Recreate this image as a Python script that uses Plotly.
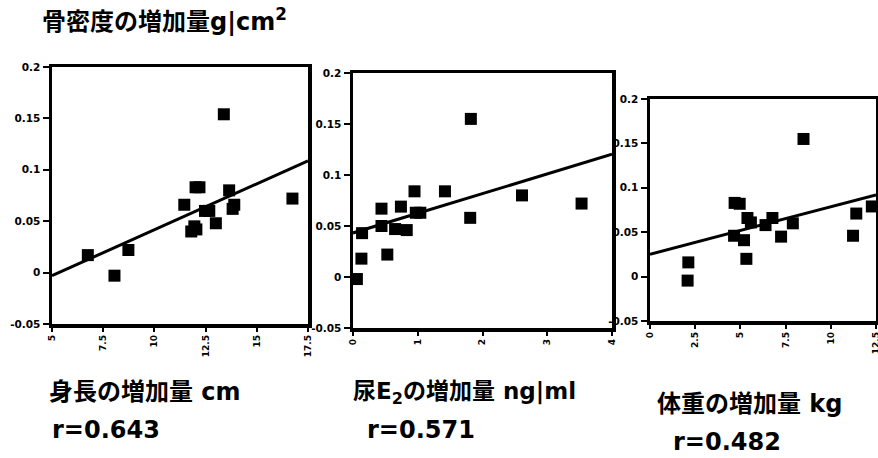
import plotly.graph_objects as go

W, H = 878, 458

# ---- data ----
height_x = [6.75, 8.05, 8.73, 11.46, 11.80, 11.95, 12.01, 12.20, 12.47, 12.68, 13.00, 13.39, 13.65, 13.82, 13.90, 16.74, 12.05]
height_y = [0.017, -0.003, 0.022, 0.066, 0.040, 0.045, 0.083, 0.083, 0.060, 0.060, 0.048, 0.154, 0.080, 0.062, 0.066, 0.072, 0.042]
height_fit = (-0.0477, 0.00894)  # intercept, slope

e2_x = [0.06, 0.13, 0.14, 0.44, 0.44, 0.53, 0.65, 0.74, 0.83, 0.95, 0.97, 1.04, 1.42, 1.82, 1.81, 2.61, 3.53]
e2_y = [-0.002, 0.018, 0.043, 0.067, 0.050, 0.022, 0.047, 0.069, 0.046, 0.084, 0.063, 0.063, 0.084, 0.155, 0.058, 0.080, 0.072]
e2_fit = (0.0432, 0.0193)

weight_x = [2.12, 2.08, 4.68, 4.96, 4.65, 5.20, 5.33, 5.39, 5.58, 6.39, 6.77, 7.25, 7.90, 8.49, 11.23, 11.41, 12.27]
weight_y = [0.016, -0.0045, 0.083, 0.082, 0.046, 0.041, 0.020, 0.066, 0.061, 0.058, 0.066, 0.045, 0.060, 0.155, 0.046, 0.071, 0.079]
weight_fit = (0.0252, 0.00535)

y_ticks = [-0.05, 0, 0.05, 0.1, 0.15, 0.2]
y_ticktext = ["-0.05", "0", "0.05", "0.1", "0.15", "0.2"]

height_ticks = [5, 7.5, 10, 12.5, 15, 17.5]
height_ticktext = ["5", "7.5", "10", "12.5", "15", "17.5"]
e2_ticks = [0, 1, 2, 3, 4]
e2_ticktext = ["0", "1", "2", "3", "4"]
weight_ticks = [0, 2.5, 5, 7.5, 10, 12.5]
weight_ticktext = ["0", "2.5", "5", "7.5", "10", "12.5"]

title_text = "骨密度の増加量g|cm<sup>2</sup>"
labels = ["身長の増加量 cm", "尿E<sub>2</sub>の増加量 ng|ml", "体重の増加量 kg"]
r_texts = ["r=0.643", "r=0.571", "r=0.482"]

# ---- layout boxes (pixels: left, right, top, bottom) ----
boxes = [(52, 308, 67, 324), (353, 612, 73, 328), (650, 876, 99, 321)]

panels = [
    (height_x, height_y, height_fit, height_ticks, height_ticktext),
    (e2_x, e2_y, e2_fit, e2_ticks, e2_ticktext),
    (weight_x, weight_y, weight_fit, weight_ticks, weight_ticktext),
]

FONT = "DejaVu Sans, Noto Sans CJK JP, sans-serif"
fig = go.Figure()
layout = {}
for i, ((xs, ys, fit, tv, tt), (l, r, t, b)) in enumerate(zip(panels, boxes)):
    n = "" if i == 0 else str(i + 1)
    xa, ya = "x" + n, "y" + n
    x0, x1 = tv[0], tv[-1]
    fig.add_trace(go.Scatter(
        x=xs, y=ys, mode="markers", xaxis=xa, yaxis=ya,
        marker=dict(symbol="square", size=12, color="black", line=dict(width=0)),
        showlegend=False, hoverinfo="skip", cliponaxis=False))
    fig.add_trace(go.Scatter(
        x=[x0, x1], y=[fit[0] + fit[1] * x0, fit[0] + fit[1] * x1],
        mode="lines", xaxis=xa, yaxis=ya,
        line=dict(color="black", width=3),
        showlegend=False, hoverinfo="skip"))
    layout["xaxis" + n] = dict(
        domain=[l / W, r / W], anchor=ya, range=[x0, x1], automargin=False,
        tickvals=tv, ticktext=tt, tickangle=-90, ticklabeloverflow="allow",
        showline=True, mirror=True, linecolor="black", linewidth=3.5,
        ticks="outside", ticklen=4, tickwidth=2, tickcolor="black",
        showgrid=False, zeroline=False,
        tickfont=dict(family=FONT, size=9, color="black", weight="bold"))
    layout["yaxis" + n] = dict(
        domain=[1 - b / H, 1 - t / H], anchor=xa, range=[-0.05, 0.2], automargin=False,
        tickvals=y_ticks, ticktext=y_ticktext, ticklabeloverflow="allow",
        showline=True, mirror=True, linecolor="black", linewidth=3.5,
        ticks="outside", ticklen=6, tickwidth=2, tickcolor="black",
        showgrid=False, zeroline=False,
        tickfont=dict(family=FONT, size=10.5, color="black", weight="bold"))

fig.update_layout(**layout)

annots = [
    dict(text=title_text, x=40 / W, y=1 - 20 / H, size=24),
    dict(text=labels[0], x=47 / W, y=1 - 392 / H, size=24),
    dict(text=r_texts[0], x=50 / W, y=1 - 430 / H, size=24),
    dict(text=labels[1], x=351 / W, y=1 - 393 / H, size=23),
    dict(text=r_texts[1], x=365 / W, y=1 - 430 / H, size=24),
    dict(text=labels[2], x=655 / W, y=1 - 404 / H, size=24),
    dict(text=r_texts[2], x=671 / W, y=1 - 442 / H, size=24),
]
for a in annots:
    fig.add_annotation(
        text=a["text"], x=a["x"], y=a["y"], xref="paper", yref="paper",
        xanchor="left", yanchor="middle", showarrow=False,
        font=dict(family=FONT, size=a["size"], color="black", weight="bold"))

fig.update_layout(
    template="none",
    width=W, height=H, margin=dict(l=0, r=0, t=0, b=0, pad=0),
    paper_bgcolor="white", plot_bgcolor="white",
)

fig.write_html("out.html",
               config={"displayModeBar": False, "staticPlot": True},
               post_script="document.body.style.margin='0';document.body.style.padding='0';")
